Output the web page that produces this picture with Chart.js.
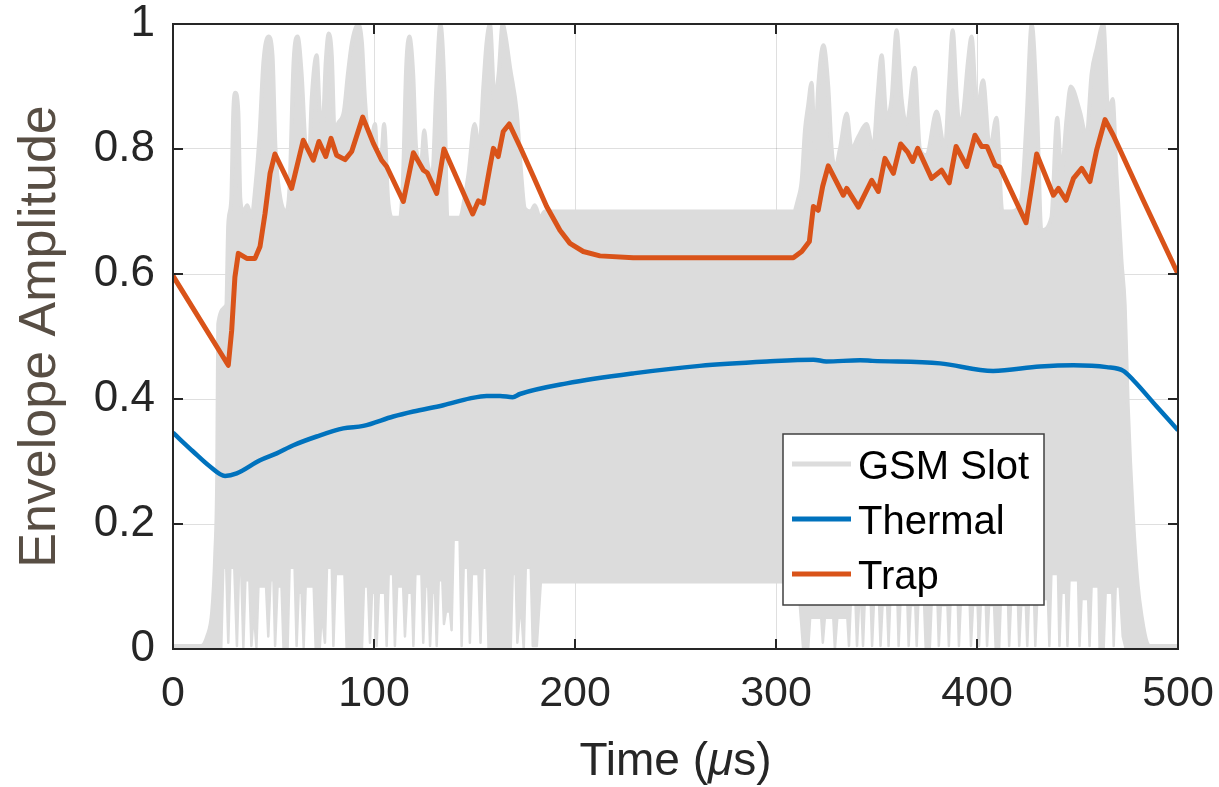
<!DOCTYPE html>
<html>
<head>
<meta charset="utf-8">
<title>Envelope amplitude</title>
<script src="https://cdn.jsdelivr.net/npm/chart.js@4.4.0/dist/chart.umd.min.js"></script>
<style>
  html, body { margin: 0; padding: 0; background: #fff; }
  #wrap { width: 1219px; height: 787px; }
</style>
</head>
<body>
<div id="wrap"><canvas id="envChart" width="1219" height="787"></canvas></div>
<script>
const FONT = "'Liberation Sans', Arial, Helvetica, sans-serif";
const INK = '#262626';

const xTicks = [0, 100, 200, 300, 400, 500];
const yTicks = [0, 0.2, 0.4, 0.6, 0.8, 1];

const seriesNames = ['GSM Slot', 'Thermal', 'Trap'];
const seriesColors = ['#dcdcdc', '#0072bd', '#d95319'];

const xTitleParts = [['Time (', 'normal'], ['\u03bc', 'italic'], ['s)', 'normal']];
const yTitle = 'Envelope Amplitude';

// GSM slot: upper edge of the burst (time in us, amplitude)
const slotTopTime = [
  0, 14, 17, 19.5, 21, 22, 22.5, 26.5, 27.5, 29,
  30, 31, 32.5, 33.5, 35, 37, 39, 41, 43, 45,
  47.5, 49.5, 51, 53, 56, 58, 60, 62, 64, 66,
  67.5, 69, 71.5, 73, 74.5, 76, 77.5, 79, 80.5, 82,
  85, 87, 89, 92, 94, 95.5, 98, 100.5, 102, 104,
  105, 107, 109, 113, 114.5, 116, 117.6, 119.5, 121, 123.5,
  125, 126.5, 129, 131, 133, 135, 136.5, 142.8, 145, 147,
  150, 152.4, 154.4, 156, 157.7, 160, 162, 164, 165.5, 167.7,
  171, 173.5, 175, 178, 180, 182.6, 185, 308.6, 311, 312.8,
  314.4, 316, 317.7, 319.4, 321, 323.6, 326, 327.7, 329.4, 331.8,
  335.2, 337.6, 341, 345, 348.4, 350.4, 352.6, 355, 357.5, 360,
  362.5, 365, 369, 371.6, 374.9, 379.9, 384, 386, 387.9, 390,
  391.2, 393.2, 395.5, 397.3, 400, 403, 406.4, 409.7, 412.6, 417,
  422, 424.7, 427.2, 430, 432, 437, 439.9, 442, 444.6, 446.6,
  451.2, 454.5, 457, 459.5, 462.9, 465.3, 467.5, 469.4, 471.9, 473.5,
  475, 477.6, 480, 482, 484.5, 486, 500
];
const slotTopValue = [
  0.005, 0.005, 0.02, 0.06, 0.15, 0.28, 0.52, 0.55, 0.68, 0.72,
  0.86, 0.89, 0.86, 0.72, 0.70, 0.71, 0.69, 0.74, 0.82, 0.94,
  0.98, 0.95, 0.80, 0.73, 0.70, 0.74, 0.94, 0.98, 0.92, 0.80,
  0.77, 0.88, 0.95, 0.86, 0.84, 0.94, 0.985, 0.95, 0.82, 0.84,
  0.86, 0.92, 0.97, 1.0, 0.97, 0.88, 0.80, 0.84, 0.76, 0.80,
  0.84, 0.72, 0.69, 0.69, 0.76, 0.93, 0.98, 0.92, 0.80, 0.78,
  0.83, 0.78, 0.76, 0.90, 1.0, 0.90, 0.69, 0.69, 0.72, 0.76,
  0.84, 0.80, 0.90, 0.97, 1.0, 0.88, 0.92, 1.0, 0.98, 0.93,
  0.86, 0.75, 0.705, 0.70, 0.71, 0.69, 0.70, 0.70, 0.72, 0.75,
  0.83, 0.87, 0.906, 0.80, 0.90, 0.966, 0.90, 0.80, 0.77, 0.80,
  0.857, 0.80, 0.82, 0.84, 0.80, 0.88, 0.95, 0.85, 0.88, 0.99,
  0.88, 0.84, 0.93, 0.80, 0.79, 0.86, 0.80, 0.90, 0.99, 0.88,
  0.84, 0.86, 0.94, 0.98, 0.86, 0.91, 0.80, 0.85, 0.70, 0.70,
  0.72, 0.85, 1.0, 0.85, 0.67, 0.69, 0.85, 0.76, 0.85, 0.90,
  0.86, 0.82, 0.92, 0.96, 1.0, 0.86, 0.88, 0.76, 0.62, 0.55,
  0.39, 0.21, 0.10, 0.05, 0.01, 0.005, 0.005
];

// GSM slot: lower edge of the burst, with the dips down to zero
const slotBottomTime = [
  0, 24, 25, 26.5, 27.5, 28.5, 30.5, 31.8, 32.8, 34,
  35, 36, 38, 39, 40.2, 41.5, 42.5, 46.3, 47.4, 48.5,
  50, 50.8, 52, 54, 55, 57, 58, 60.5, 61.5, 62.5,
  64, 65, 66, 70, 71, 73, 74, 75.6, 76.6, 79,
  79.8, 81, 85.3, 86.4, 94, 95, 97, 98, 99, 100.5,
  101.3, 102.4, 105.5, 106.3, 107.3, 109.5, 110.4, 111.5, 114.5, 115.4,
  116.5, 118.8, 119.6, 120.6, 123.6, 124.5, 125.5, 127, 127.9, 129,
  130.4, 131.2, 132.2, 134, 134.8, 135.8, 137.8, 138.6, 139.6, 142.6,
  143.6, 144.6, 146.8, 147.7, 148.7, 152, 153, 154, 156, 157,
  168, 169, 170.5, 171.3, 172.3, 173.5, 174.5, 175.5, 178, 179,
  181, 183, 309, 311, 313.5, 316, 317, 322.5, 323.3, 324.3,
  328.5, 329.3, 330.5, 335.5, 336.3, 337.3, 339.5, 340.3, 341.3, 342.5,
  343.3, 344.3, 347, 347.8, 348.8, 351.2, 352, 353, 355.3, 356,
  357, 360.3, 361, 362, 365.3, 366, 367, 369.3, 370, 371,
  373.5, 374.5, 376.5, 377.5, 380.3, 381, 382, 385.3, 386, 387,
  390.3, 391, 392, 396.3, 397, 398, 400.3, 401, 402, 404.3,
  405, 406, 408.5, 409.3, 411, 412, 415.3, 416, 417, 420.3,
  421, 422, 424.3, 425, 426, 428.3, 429, 430, 435.3, 436,
  437, 440.3, 441, 442, 444.3, 445, 446, 450.3, 451, 452,
  455.3, 456, 457, 460.5, 461, 463, 464, 467.3, 468, 469,
  471, 472.5, 474, 500
];
const slotBottomValue = [
  0, 0, 0.13, 0.13, 0.01, 0.13, 0.13, 0.005, 0.12, 0.12,
  0.003, 0.11, 0.11, 0.005, 0.06, 0.003, 0.10, 0.10, 0.02, 0.11,
  0.11, 0.005, 0.10, 0.10, 0, 0, 0.13, 0.13, 0.005, 0.09,
  0.09, 0.003, 0.10, 0.10, 0, 0, 0.06, 0.01, 0.13, 0.13,
  0.005, 0.12, 0.12, 0, 0, 0.10, 0.10, 0.01, 0.09, 0.09,
  0.005, 0.09, 0.09, 0.005, 0.12, 0.12, 0.005, 0.10, 0.10, 0.02,
  0.09, 0.09, 0.005, 0.12, 0.12, 0.01, 0.10, 0.10, 0.005, 0.09,
  0.09, 0.005, 0.11, 0.11, 0.04, 0.06, 0.06, 0.03, 0.175, 0.175,
  0.005, 0.13, 0.13, 0.01, 0.12, 0.12, 0.01, 0.13, 0.13, 0,
  0, 0.12, 0.12, 0.01, 0.05, 0.05, 0, 0.13, 0.13, 0.005,
  0.005, 0.107, 0.107, 0.107, 0, 0, 0.05, 0.05, 0.01, 0.05,
  0.05, 0, 0.05, 0.05, 0.005, 0.08, 0.08, 0.005, 0.07, 0.07,
  0.005, 0.09, 0.09, 0.005, 0.08, 0.08, 0.005, 0.07, 0.07, 0.005,
  0.09, 0.09, 0.005, 0.08, 0.08, 0.005, 0.07, 0.07, 0.005, 0.09,
  0.09, 0, 0, 0.08, 0.08, 0.005, 0.07, 0.07, 0.005, 0.09,
  0.09, 0.005, 0.08, 0.08, 0.005, 0.07, 0.07, 0.005, 0.08, 0.08,
  0.005, 0.07, 0.07, 0, 0, 0.09, 0.09, 0.005, 0.08, 0.08,
  0.005, 0.07, 0.07, 0.005, 0.09, 0.09, 0.005, 0.08, 0.08, 0.005,
  0.12, 0.12, 0.005, 0.09, 0.09, 0.005, 0.11, 0.11, 0.005, 0.08,
  0.08, 0.005, 0.10, 0.10, 0, 0, 0.09, 0.09, 0.005, 0.10,
  0.10, 0.02, 0, 0
];

// Thermal memory envelope
const thermalTime = [
  0, 10, 18.4, 25.9, 31.7, 43.3, 51.6, 59.9, 71.5, 84.7,
  94.7, 109.6, 119.6, 134.5, 147.8, 156, 162.7, 169, 172.6, 195.9,
  229, 262, 295.4, 318.6, 325, 341.8, 348, 381.6, 408, 431.3,
  448, 464.5, 472.8, 477.8, 489.4, 500
];
const thermalValue = [
  0.346, 0.316, 0.292, 0.277, 0.281, 0.302, 0.313, 0.326, 0.340, 0.353,
  0.357, 0.372, 0.380, 0.390, 0.401, 0.405, 0.405, 0.403, 0.408, 0.425,
  0.441, 0.453, 0.460, 0.463, 0.460, 0.462, 0.461, 0.457, 0.445, 0.452,
  0.454, 0.451, 0.445, 0.430, 0.388, 0.350
];

// Trap memory envelope
const trapTime = [
  0, 27.5, 29.2, 30.8, 32.5, 36.7, 40.8, 43.3, 45.8, 48.3,
  50.7, 59, 64.8, 69.8, 72.6, 76, 78.6, 81.4, 85.6, 88.9,
  94.4, 99.7, 103.8, 106.3, 114.6, 119.6, 124.6, 126.5, 131.2, 134.8,
  149.1, 151.9, 154.4, 157.7, 159.4, 161.8, 164.3, 167.3, 172.6, 179.3,
  185.9, 192.5, 197.5, 204.1, 212.4, 229, 308.6, 312.8, 316.6, 318.6,
  321, 323.2, 326, 333.5, 335.2, 341, 347.6, 350.9, 354.2, 358.4,
  362, 365.5, 368, 370.5, 377.4, 382.4, 386.2, 389.6, 394.9, 399,
  402.3, 405, 409, 411.4, 424.4, 429.7, 438, 440.5, 444.3, 448,
  452.1, 456.2, 459.5, 463.7, 467.8, 482.7, 500
];
const trapValue = [
  0.597, 0.454, 0.51, 0.595, 0.633, 0.625, 0.625, 0.644, 0.697, 0.761,
  0.792, 0.737, 0.814, 0.782, 0.812, 0.788, 0.817, 0.790, 0.783, 0.796,
  0.851, 0.809, 0.782, 0.772, 0.716, 0.794, 0.766, 0.762, 0.729, 0.800,
  0.696, 0.717, 0.713, 0.772, 0.801, 0.788, 0.828, 0.840, 0.804, 0.756,
  0.708, 0.670, 0.649, 0.636, 0.629, 0.626, 0.626, 0.636, 0.652, 0.708,
  0.702, 0.740, 0.773, 0.726, 0.737, 0.707, 0.750, 0.732, 0.785, 0.761,
  0.808, 0.795, 0.780, 0.801, 0.753, 0.766, 0.746, 0.804, 0.772, 0.822,
  0.804, 0.804, 0.774, 0.771, 0.682, 0.792, 0.726, 0.737, 0.718, 0.753,
  0.769, 0.748, 0.798, 0.847, 0.822, 0.718, 0.600
];

function toPoints(times, values) {
  return times.map((t, i) => ({ x: t, y: values[i] }));
}

// fixed box sizes so the plot area sits at 173..1178 x 24..649
function pinScale(scale, prop, size) {
  scale[prop] = size;
  scale.paddingLeft = 0;
  scale.paddingRight = 0;
  scale.paddingTop = 0;
  scale.paddingBottom = 0;
}

// box around the axes with inward ticks on all four sides
const framePlugin = {
  id: 'frame',
  afterDraw(chart) {
    const { ctx, chartArea: a, scales: { x, y } } = chart;
    ctx.save();
    ctx.strokeStyle = INK;
    ctx.lineWidth = 2;
    ctx.strokeRect(a.left, a.top, a.right - a.left, a.bottom - a.top);
    ctx.beginPath();
    xTicks.forEach(v => {
      const px = x.getPixelForValue(v);
      ctx.moveTo(px, a.bottom); ctx.lineTo(px, a.bottom - 10);
      ctx.moveTo(px, a.top); ctx.lineTo(px, a.top + 10);
    });
    yTicks.forEach(v => {
      const py = y.getPixelForValue(v);
      ctx.moveTo(a.left, py); ctx.lineTo(a.left + 10, py);
      ctx.moveTo(a.right, py); ctx.lineTo(a.right - 10, py);
    });
    ctx.stroke();
    ctx.restore();
  }
};

// legend box in the lower right of the plot
const boxLegend = {
  id: 'boxLegend',
  afterDraw(chart) {
    const { ctx } = chart;
    const box = { x: 783, y: 434, w: 261, h: 171 };
    ctx.save();
    ctx.fillStyle = '#ffffff';
    ctx.fillRect(box.x, box.y, box.w, box.h);
    ctx.strokeStyle = '#404040';
    ctx.lineWidth = 1.5;
    ctx.strokeRect(box.x, box.y, box.w, box.h);
    ctx.font = '40px ' + FONT;
    ctx.textBaseline = 'alphabetic';
    ctx.textAlign = 'left';
    seriesNames.forEach((name, i) => {
      const rowY = 464 + i * 55;
      ctx.strokeStyle = seriesColors[i];
      ctx.lineWidth = 5;
      ctx.beginPath();
      ctx.moveTo(792, rowY);
      ctx.lineTo(851, rowY);
      ctx.stroke();
      ctx.fillStyle = '#000000';
      ctx.fillText(name, 858, rowY + 15);
    });
    ctx.restore();
  }
};

// axis titles; the x title has an italic mu
const axisTitles = {
  id: 'axisTitles',
  afterDraw(chart) {
    const { ctx, chartArea: a } = chart;
    ctx.save();
    ctx.fillStyle = INK;
    ctx.textBaseline = 'alphabetic';
    ctx.textAlign = 'left';
    const fontFor = style => (style === 'italic' ? 'italic ' : '') + '46px ' + FONT;
    let total = 0;
    xTitleParts.forEach(([txt, style]) => {
      ctx.font = fontFor(style);
      total += ctx.measureText(txt).width;
    });
    let cx = (a.left + a.right) / 2 - total / 2;
    xTitleParts.forEach(([txt, style]) => {
      ctx.font = fontFor(style);
      ctx.fillText(txt, cx, 775);
      cx += ctx.measureText(txt).width;
    });

    ctx.fillStyle = '#584e44';
    ctx.font = '52px ' + FONT;
    ctx.textAlign = 'center';
    ctx.translate(55, (a.top + a.bottom) / 2);
    ctx.rotate(-Math.PI / 2);
    ctx.fillText(yTitle, 0, 0);
    ctx.restore();
  }
};

const gridColor = 'rgba(38, 38, 38, 0.15)';

new Chart(document.getElementById('envChart').getContext('2d'), {
  type: 'line',
  data: {
    datasets: [
      {
        label: seriesNames[2],
        data: toPoints(trapTime, trapValue),
        borderColor: seriesColors[2],
        borderWidth: 5,
        borderJoinStyle: 'round',
        pointRadius: 0,
        tension: 0,
        fill: false
      },
      {
        label: seriesNames[1],
        data: toPoints(thermalTime, thermalValue),
        borderColor: seriesColors[1],
        borderWidth: 4.5,
        pointRadius: 0,
        cubicInterpolationMode: 'monotone',
        fill: false
      },
      {
        label: seriesNames[0],
        data: toPoints(slotTopTime, slotTopValue),
        borderColor: seriesColors[0],
        backgroundColor: seriesColors[0],
        borderWidth: 4,
        borderJoinStyle: 'round',
        borderCapStyle: 'round',
        pointRadius: 0,
        cubicInterpolationMode: 'monotone',
        fill: '+1'
      },
      {
        label: seriesNames[0] + ' low',
        data: toPoints(slotBottomTime, slotBottomValue),
        borderColor: seriesColors[0],
        borderWidth: 2.5,
        borderJoinStyle: 'round',
        pointRadius: 0,
        tension: 0,
        fill: false
      }
    ]
  },
  options: {
    responsive: false,
    animation: false,
    events: [],
    layout: { padding: { top: 24, right: 41, left: 0, bottom: 0 } },
    plugins: {
      legend: { display: false },
      tooltip: { enabled: false }
    },
    scales: {
      x: {
        type: 'linear',
        min: 0,
        max: 500,
        afterFit: scale => pinScale(scale, 'height', 138),
        afterBuildTicks: scale => { scale.ticks = xTicks.map(v => ({ value: v })); },
        grid: { color: gridColor, lineWidth: 1, drawTicks: false },
        border: { display: false },
        ticks: {
          color: INK,
          font: { family: FONT, size: 43, lineHeight: 1 },
          padding: 24,
          maxRotation: 0,
          autoSkip: false
        }
      },
      y: {
        min: 0,
        max: 1,
        afterFit: scale => pinScale(scale, 'width', 173),
        afterBuildTicks: scale => { scale.ticks = yTicks.map(v => ({ value: v })); },
        grid: { color: gridColor, lineWidth: 1, drawTicks: false },
        border: { display: false },
        ticks: {
          color: INK,
          font: { family: FONT, size: 44, lineHeight: 1 },
          padding: 18,
          autoSkip: false,
          callback: v => String(+v.toFixed(1))
        }
      }
    }
  },
  plugins: [framePlugin, boxLegend, axisTitles]
});
</script>
</body>
</html>
